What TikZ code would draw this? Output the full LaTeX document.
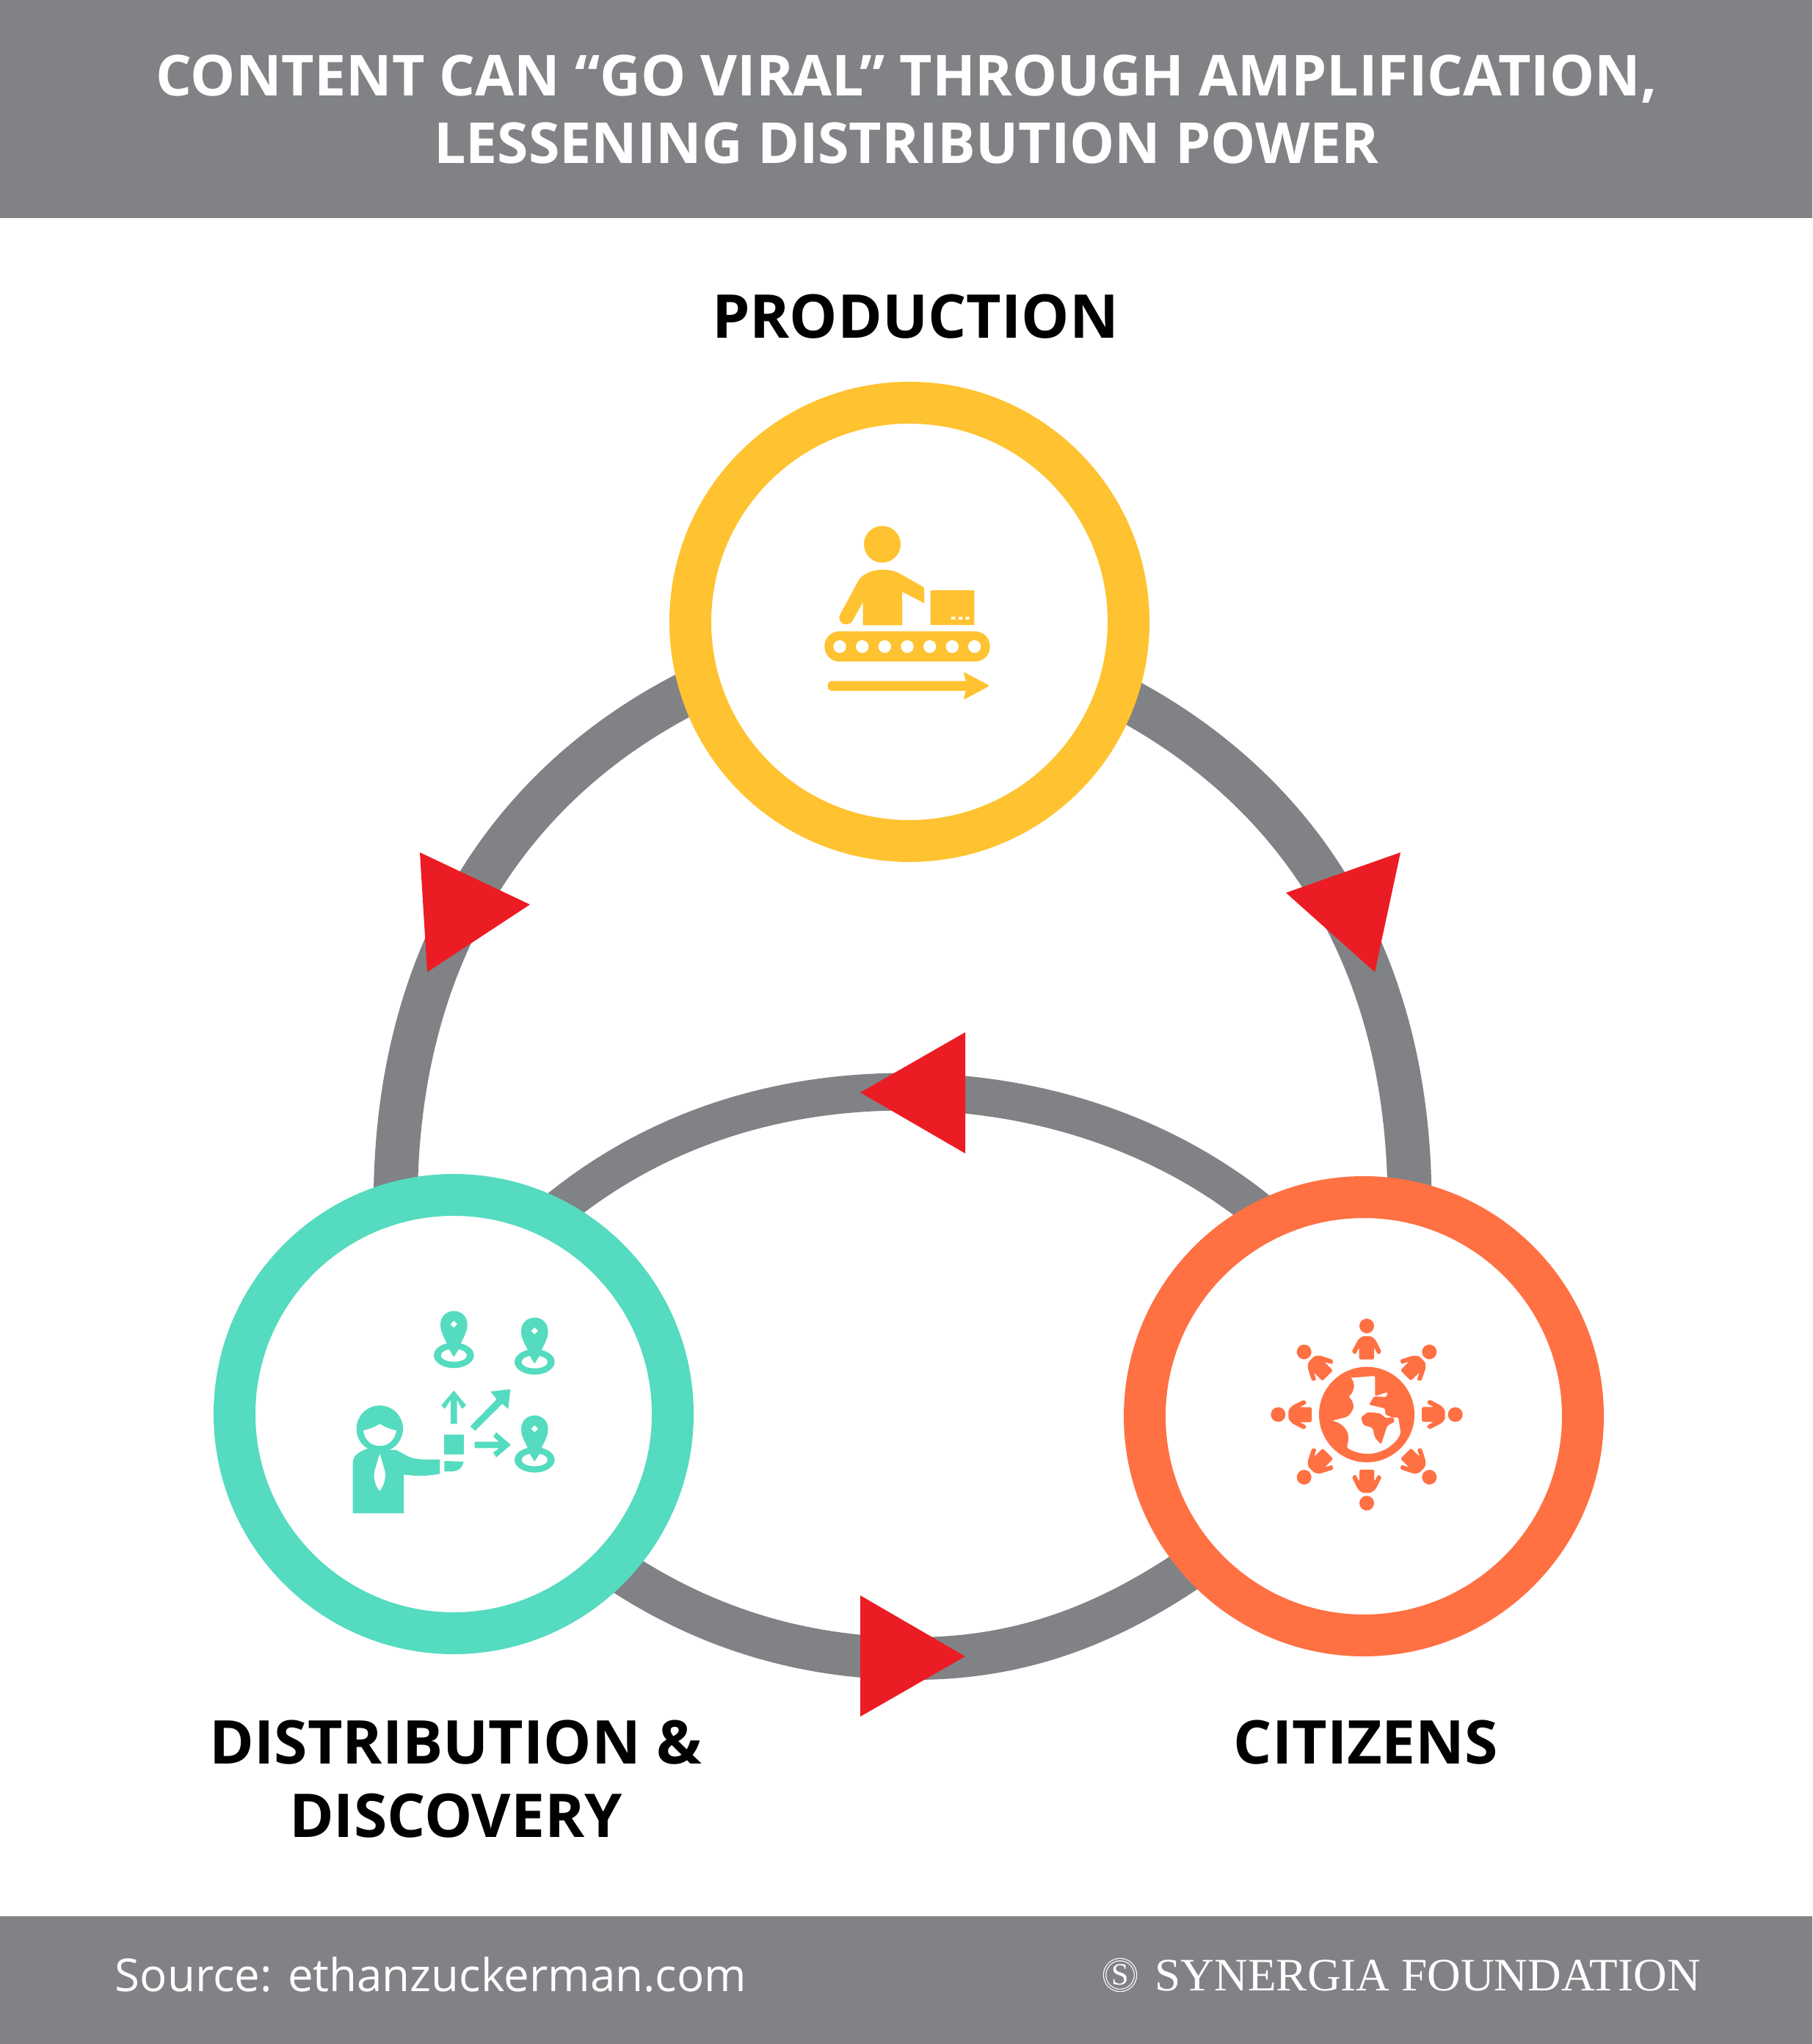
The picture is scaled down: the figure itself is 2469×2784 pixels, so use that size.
\documentclass[tikz,border=0pt]{standalone}
\usepackage{fontspec}
\setmainfont{Open Sans}
\newfontfamily\logofont{Liberation Serif}
\usetikzlibrary{backgrounds}
\definecolor{bargrey}{HTML}{808285}
\definecolor{prodyellow}{HTML}{FFC230}
\definecolor{distteal}{HTML}{55DBBF}
\definecolor{citorange}{HTML}{FF7043}
\definecolor{headred}{HTML}{EC1C24}
\tikzset{
  ringnode/.style={circle,draw=#1,fill=white,line width=5.7mm,minimum size=59.7mm,inner sep=0pt},
  loopline/.style={draw=bargrey,line width=#1,shorten <=-3mm,shorten >=-3mm},
  redhead/.style={fill=headred},
  titletext/.style={text=white,font=\bfseries\fontsize{21.9}{26.2}\selectfont,align=center,inner sep=0pt},
  headtext/.style={text=black,font=\bfseries\fontsize{23.4}{28.4}\selectfont,align=center,inner sep=0pt}
}
\begin{document}
\begin{tikzpicture}[x=0.1mm,y=-0.1mm]
\useasboundingbox (0,0) rectangle (2469,2784);
\fill[bargrey] (0,0) rectangle (2469,297);
\fill[bargrey] (0,2610) rectangle (2469,2784);

\node[titletext] (title) at (1235,149) {CONTENT CAN “GO VIRAL” THROUGH AMPLIFICATION,\\LESSENING DISTRIBUTION POWER};
\node[headtext] (prodlabel) at (1247,431) {PRODUCTION};
\node[headtext] (distlabel) at (621,2423) {DISTRIBUTION \&\\DISCOVERY};
\node[headtext] (citlabel) at (1861,2373) {CITIZENS};
\node[text=white,font=\fontsize{17.6}{22}\selectfont,inner sep=0pt,anchor=west] (source) at (156,2689) {Source: ethanzuckerman.com};
\node[text=white,font=\logofont\fontsize{18}{22}\selectfont,inner sep=0pt,anchor=west] (synergia) at (1573,2691) {SYNERGIA FOUNDATION};
\node[circle,draw=white,double=bargrey,double distance=0.2mm,line width=0.12mm,minimum size=4.2mm,inner sep=0pt,text=white,font=\logofont\fontsize{12}{12}\selectfont] (logo) at (1526,2690) {S};

\node[ringnode=prodyellow] (production) at (1239,847) {};
\node[ringnode=distteal] (distribution) at (618,1926) {};
\node[ringnode=citorange] (citizens) at (1858,1929) {};
\coordinate (looptop) at (1232,1487);
\coordinate (loopbottom) at (1245,2259);

\begin{scope}[on background layer]
\fill[white] (0,0) rectangle (2469,2784);
\draw[loopline=6mm] (distribution.104) .. controls +(0,-302) and +(-238,115) .. (production.198);
\draw[loopline=6mm] (production.340) .. controls +(229,118) and +(0,-295) .. (citizens.79);
\draw[loopline=5.1mm] (citizens.118) .. controls +(-112,-95) and +(182,0) .. (looptop) .. controls +(-182,0) and +(112,-95) .. (distribution.62);
\draw[loopline=5.8mm] (distribution.-43.5) .. controls +(104,71) and +(-146,0) .. (loopbottom) .. controls +(146,0) and +(-100,70) .. (citizens.221);
\end{scope}

\fill[redhead] (572,1161) -- (722,1232) -- (582,1324) -- cycle;
\fill[redhead] (1908,1161) -- (1752,1216) -- (1873,1324) -- cycle;
\fill[redhead] (1315,1406) -- (1172,1488) -- (1315,1571) -- cycle;
\fill[redhead] (1172,2173) -- (1315,2256) -- (1172,2338) -- cycle;

% conveyor icon
\begin{scope}[shift={(1080,680)},scale=1/3,prodyellow]
\fill (366,184) circle[radius=75];
\fill (287,515) -- (287,420) -- (245,495) .. controls (235,515) and (205,518) .. (193,495) .. controls (188,485) and (190,475) .. (195,468) -- (262,345) .. controls (275,310) and (320,288) .. (365,288) .. controls (395,288) and (420,293) .. (440,305) -- (536,360) -- (538,425) -- (447,378) -- (447,515) -- cycle;
\fill[even odd rule] (563,372) rectangle (742,514) (648,480) rectangle (664,492) (678,480) rectangle (693,492) (706,480) rectangle (721,492);
\fill[rounded corners=5.7pt] (130,540) rectangle (806,663);
\foreach \hx in {192,284,376,468,560,652,743}
  \fill[white] (\hx,602) circle[radius=26];
\fill[rounded corners=1.5pt] (143,743) rectangle (720,783);
\fill[rounded corners=0.5pt] (698,705) -- (805,762) -- (698,820) -- (712,762) -- cycle;
\end{scope}

% person with pins icon
\begin{scope}[shift={(440,1760)},scale=1/3,distteal]
\fill (232,558) circle[radius=95];
\fill[white] (165,565) .. controls (190,560) and (215,550) .. (232,538) .. controls (250,550) and (275,560) .. (300,565) .. controls (295,605) and (265,628) .. (232,628) .. controls (198,628) and (170,605) .. (165,565) -- cycle;
\fill (122,903) -- (122,700) .. controls (122,670) and (140,655) .. (180,640) -- (300,645) -- (350,672) .. controls (380,685) and (430,685) .. (478,683) -- (478,742) .. controls (430,752) and (380,752) .. (330,745) -- (330,903) -- cycle;
\fill[white] (232,660) -- (250,720) .. controls (262,750) and (250,790) .. (232,812) .. controls (212,790) and (202,750) .. (214,720) -- cycle;
\fill (496,583) rectangle (575,662);
\fill (496,690) -- (575,692) .. controls (570,720) and (550,732) .. (530,732) -- (496,732) -- cycle;
\foreach \px/\py in {535/133,865/160,865/560} {
  \fill (\px,\py+125) ellipse[x radius=82,y radius=52];
  \fill[white] (\px,\py+125) ellipse[x radius=53,y radius=26];
  \fill (\px-55,\py) .. controls (\px-55,\py-75) and (\px+55,\py-75) .. (\px+55,\py) .. controls (\px+55,\py+40) and (\px+25,\py+70) .. (\px+20,\py+100) -- (\px,\py+132) -- (\px-20,\py+100) .. controls (\px-25,\py+70) and (\px-55,\py+40) .. (\px-55,\py) -- cycle;
  \fill[white] (\px-14,\py-2) -- (\px,\py-16) -- (\px+14,\py-2) -- (\px,\py+12) -- cycle;
}
\fill (522,538) -- (522,440) -- (498,477) -- (484,462) -- (535,402) -- (585,462) -- (568,477) -- (548,440) -- (548,538) -- cycle;
\fill (602,548) -- (710,438) -- (685,406) -- (766,396) -- (757,477) -- (733,456) -- (622,566) -- cycle;
\fill (620,611) -- (720,611) -- (696,590) -- (708,572) -- (768,624) -- (708,675) -- (696,655) -- (720,637) -- (620,637) -- cycle;
\end{scope}

% globe with people icon
\begin{scope}[shift={(1700,1770)},scale=1/3,citorange]
\fill (486,470) circle[radius=195];
\fill[white,rounded corners=0.6pt] (422,320) -- (520,312) -- (520,395) -- (572,378) -- (566,398) -- (515,396) -- (495,430) -- (560,445) -- (562,470) -- (590,482) -- (615,482) -- (625,545) .. controls (600,600) and (540,632) .. (480,630) .. controls (455,628) and (425,618) .. (405,605) -- (412,570) .. controls (410,530) and (385,505) .. (345,495) -- (405,480) .. controls (425,465) and (435,440) .. (430,425) .. controls (425,405) and (410,400) .. (420,390) .. controls (435,370) and (440,345) .. (422,320) -- cycle;
\fill[rounded corners=0.5pt] (462,482) -- (490,460) -- (540,465) -- (565,485) -- (595,480) -- (600,500) -- (570,515) -- (545,592) -- (520,565) -- (510,525) -- (472,512) -- cycle;
\foreach \ang in {0,45,...,315} {
  \begin{scope}[rotate around={\ang:(486,470)}]
  \fill (486,108) circle[radius=30];
  \fill[rounded corners=0.7pt] (455,245) -- (455,195) -- (440,225) -- (424,215) -- (450,165) -- (468,150) -- (505,150) -- (522,165) -- (547,215) -- (532,226) -- (516,195) -- (516,245) -- cycle;
  \end{scope}
}
\end{scope}
\end{tikzpicture}
\end{document}
